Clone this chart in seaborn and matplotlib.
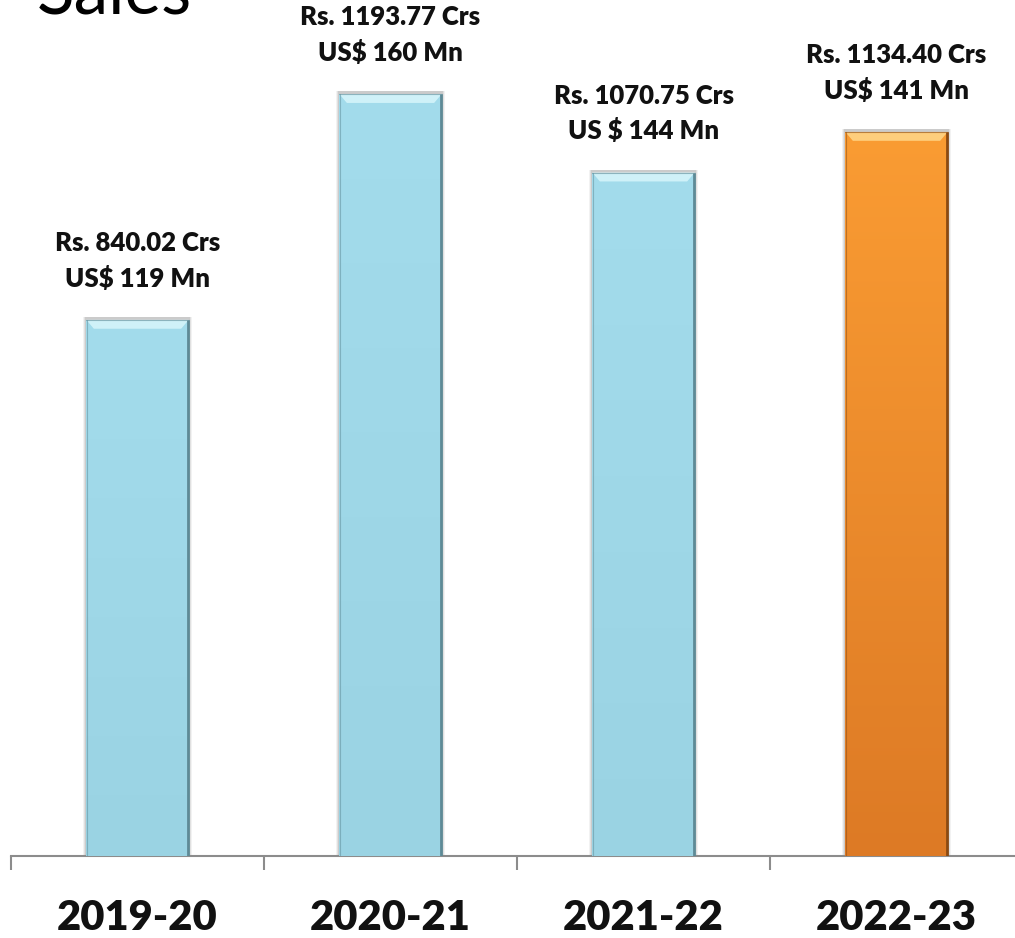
import numpy as np
import pandas as pd
import matplotlib
matplotlib.use("Agg")
import matplotlib.pyplot as plt
import seaborn as sns
from matplotlib.colors import LinearSegmentedColormap

years = ["2019-20", "2020-21", "2021-22", "2022-23"]
sales_rs = [840.02, 1193.77, 1070.75, 1134.40]
label_rs = ["Rs. 840.02 Crs", "Rs. 1193.77 Crs", "Rs. 1070.75 Crs", "Rs. 1134.40 Crs"]
label_us = ["US$ 119 Mn", "US$ 160 Mn", "US $ 144 Mn", "US$ 141 Mn"]
title = "Sales"

sns.set_theme(style="white")
plt.rcParams['font.family'] = ['Lato', 'DejaVu Sans']

W, H = 1015, 938
fig = plt.figure(figsize=(W/100, H/100), dpi=100)
ax_left = 11 / W
ax_right = 1023 / W
ax_bottom = (H - 856) / H
ax = fig.add_axes([ax_left, ax_bottom, ax_right - ax_left, 1 - ax_bottom])

df = pd.DataFrame({"year": years, "sales": sales_rs})
blue = "#A0DAEA"
orange = "#F4922E"
colors = [blue, blue, blue, orange]
sns.barplot(data=df, x="year", y="sales", hue="year", palette=colors, legend=False,
            width=0.405, ax=ax, saturation=1, edgecolor="none")

ax.set_xlim(-0.5, len(years) - 0.5)
ax.set_ylim(0, 1341)

grads = {
    blue: LinearSegmentedColormap.from_list("b", ["#9AD3E3", "#A3DCEC"]),
    orange: LinearSegmentedColormap.from_list("o", ["#DD7A25", "#FA9C33"]),
}
edge_dark = {blue: "#5E8A96", orange: "#8A4A12"}
light = {blue: "#D8F6FB", orange: "#FFD88A"}

for patch, c in zip(ax.patches, colors):
    x0, y0 = patch.get_x(), patch.get_y()
    w, h = patch.get_width(), patch.get_height()
    for k, a in zip([0.012, 0.008, 0.004], [0.05, 0.07, 0.09]):
        sh = plt.Rectangle((x0 - k, y0), w + 2 * k, h + 4, facecolor="black", alpha=a,
                           edgecolor="none", zorder=1)
        ax.add_patch(sh)
    patch.set_zorder(2)
    grad = np.linspace(0, 1, 256).reshape(-1, 1)
    im = ax.imshow(grad, extent=(x0, x0 + w, y0, y0 + h), origin="lower",
                   cmap=grads[c], aspect="auto", zorder=3)
    im.set_clip_path(patch)
    bev = 14
    top = plt.Polygon([(x0, y0 + h), (x0 + w, y0 + h), (x0 + w - 0.03, y0 + h - bev),
                       (x0 + 0.03, y0 + h - bev)], closed=True, facecolor=light[c],
                      edgecolor="none", alpha=0.85, zorder=4)
    ax.add_patch(top)
    ax.plot([x0 + w - 0.003, x0 + w - 0.003], [y0, y0 + h], color=edge_dark[c], lw=2, zorder=5,
            solid_capstyle="butt")
    ax.plot([x0 + 0.002, x0 + 0.002], [y0, y0 + h], color=edge_dark[c], lw=0.8, alpha=0.5, zorder=5)
    ax.plot([x0, x0 + w], [y0 + h, y0 + h], color=edge_dark[c], lw=0.8, alpha=0.6, zorder=5)

for i, (v, a, b) in enumerate(zip(sales_rs, label_rs, label_us)):
    ax.annotate(f"{a}\n{b}", xy=(i, v), xytext=(0, 21), textcoords="offset points",
                ha="center", va="bottom", fontsize=18.5, fontweight="heavy",
                linespacing=1.5, color="#111111")

for s in ["top", "right", "left"]:
    ax.spines[s].set_visible(False)
ax.spines["bottom"].set_color("#8C8C8C")
ax.spines["bottom"].set_linewidth(1.5)
ax.set_yticks([])
ax.set_xlabel("")
ax.set_ylabel("")
ax.set_xticks(range(len(years)))
ax.set_xticklabels(years, fontsize=30, fontweight="heavy", color="#111111")
ax.tick_params(axis="x", which="major", length=0, pad=31, bottom=True)
ax.set_xticks(np.arange(-0.5, len(years), 1.0), minor=True)
ax.tick_params(axis="x", which="minor", length=10, width=1.5, color="#8C8C8C",
               direction="out", bottom=True)

fig.text(37 / W, 1 - 14 / H, title, fontsize=50, ha="left", va="baseline", color="black")

fig.savefig("out.png", dpi=100)
